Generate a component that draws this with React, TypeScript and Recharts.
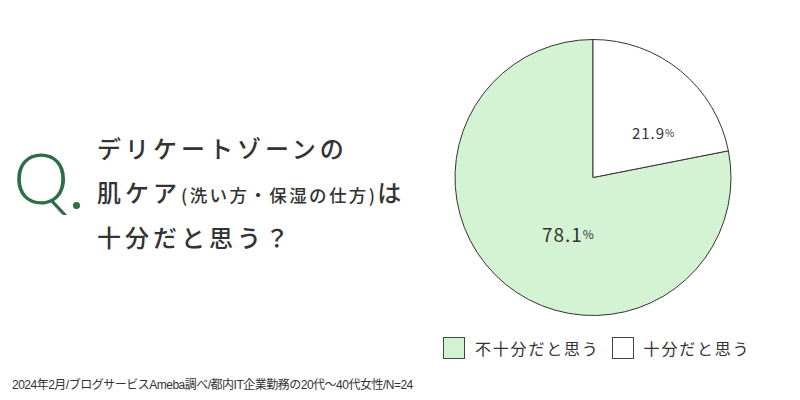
import React from 'react';
import { PieChart, Pie, Cell, Legend } from 'recharts';

// survey answers (%), counter-clockwise from 12 o'clock
const answerLabels = ['不十分だと思う', '十分だと思う'];
const answerValues = [78.1, 21.9];

const sliceColors = ['#d3f3d3', '#ffffff'];
// label nudges + font sizes per slice
const labelNudge = [
  { dx: 21, dy: 0, size: 19, pct: 12 },
  { dx: 15, dy: 10, size: 15, pct: 10 },
];

const titleLine1 = 'デリケートゾーンの';
const titleLine2a = '肌ケア';
const titleLine2b = '(洗い方・保湿の仕方)';
const titleLine2c = 'は';
const titleLine3 = '十分だと思う？';
const footnote = '2024年2月/ブログサービスAmeba調べ/都内IT企業勤務の20代〜40代女性/N=24';

const data = answerLabels.map((name, i) => ({ name, value: answerValues[i] }));

const jp = '"Noto Sans CJK JP", "Noto Sans", sans-serif';

const RADIAN = Math.PI / 180;

// eslint-disable-next-line @typescript-eslint/no-explicit-any
function renderLabel(props: any) {
  const { cx, cy, midAngle, outerRadius, index, value } = props;
  const r = outerRadius * 0.52;
  const n = labelNudge[index];
  const x = cx + r * Math.cos(-midAngle * RADIAN) + n.dx;
  const y = cy + r * Math.sin(-midAngle * RADIAN) + n.dy;
  return (
    <text
      x={x}
      y={y}
      textAnchor="middle"
      dominantBaseline="central"
      fill="#333"
      fontFamily={jp}
      style={{ letterSpacing: 1 }}
    >
      <tspan fontSize={n.size}>{value.toFixed(1)}</tspan>
      <tspan fontSize={n.pct}>%</tspan>
    </text>
  );
}

// eslint-disable-next-line @typescript-eslint/no-explicit-any
function renderLegend(props: any) {
  const { payload } = props;
  return (
    <div style={{ display: 'flex', alignItems: 'center', fontFamily: jp }}>
      {/* eslint-disable-next-line @typescript-eslint/no-explicit-any */}
      {payload.map((entry: any, i: number) => (
        <div key={i} style={{ display: 'flex', alignItems: 'center', marginRight: 12 }}>
          <span
            style={{
              display: 'inline-block',
              width: 20,
              height: 20,
              border: '1.5px solid #444',
              background: sliceColors[i],
              marginRight: 10,
            }}
          />
          <span style={{ fontSize: 16, color: '#333', letterSpacing: 1.8 }}>{entry.value}</span>
        </div>
      ))}
    </div>
  );
}

export default function App() {
  const lineStyle: React.CSSProperties = {
    position: 'absolute',
    left: 97,
    fontSize: 24,
    fontWeight: 500,
    letterSpacing: 4,
    color: '#333',
    whiteSpace: 'nowrap',
    lineHeight: 1,
  };
  return (
    <div
      style={{
        position: 'absolute',
        left: 0,
        top: 0,
        width: 800,
        height: 400,
        background: '#fff',
        fontFamily: jp,
        overflow: 'hidden',
      }}
    >
      <div
        style={{
          position: 'absolute',
          left: 13,
          top: 141,
          fontSize: 71,
          fontWeight: 300,
          color: '#2e6d45',
          lineHeight: 1,
          fontFamily: 'Lato, sans-serif',
        }}
      >
        Q
      </div>
      <div
        style={{
          position: 'absolute',
          left: 73,
          top: 202,
          width: 7,
          height: 7,
          borderRadius: '50%',
          background: '#2e6d45',
        }}
      />
      <div style={{ ...lineStyle, top: 136 }}>{titleLine1}</div>
      <div style={{ ...lineStyle, top: 180 }}>
        {titleLine2a}
        <span style={{ fontSize: 17.5, letterSpacing: 2.4 }}>{titleLine2b}</span>
        {titleLine2c}
      </div>
      <div style={{ ...lineStyle, top: 225 }}>{titleLine3}</div>

      <div style={{ position: 'absolute', left: 0, top: 0 }}>
        <PieChart width={800} height={400} margin={{ top: 0, right: 0, bottom: 0, left: 0 }}>
          <Pie
            data={data}
            dataKey="value"
            nameKey="name"
            cx={593}
            cy={177.5}
            outerRadius={138}
            startAngle={90}
            endAngle={450}
            stroke="#333"
            strokeWidth={1}
            label={renderLabel}
            labelLine={false}
            isAnimationActive={false}
          >
            {data.map((d, i) => (
              <Cell key={d.name} fill={sliceColors[i]} />
            ))}
          </Pie>
          <Legend
            content={renderLegend}
            wrapperStyle={{ position: 'absolute', left: 443, top: 336, width: 340 }}
          />
        </PieChart>
      </div>

      <div
        style={{
          position: 'absolute',
          left: 12,
          top: 377,
          fontSize: 12,
          lineHeight: '16px',
          color: '#333',
          whiteSpace: 'nowrap',
          letterSpacing: -0.5,
          fontFamily: '"Liberation Sans", "Noto Sans CJK JP", sans-serif',
        }}
      >
        {footnote}
      </div>
    </div>
  );
}
